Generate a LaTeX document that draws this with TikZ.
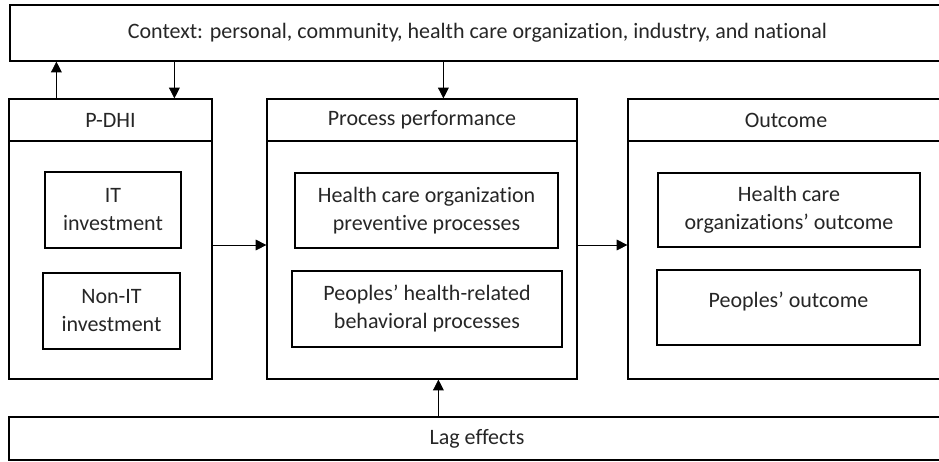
\documentclass[tikz,border=0pt]{standalone}
\usepackage{fontspec}
\setmainfont{Carlito}[Ligatures={NoCommon}]
\usetikzlibrary{arrows.meta,calc}

\tikzset{
  frame/.style={draw, line width=0.9pt, inner sep=0pt, align=center,
    text=black!85, font=\fontsize{16.5}{21}\selectfont},
  arr/.style={-{Triangle[width=8pt,length=8pt]}, line width=0.6pt}
}

\begin{document}
\begin{tikzpicture}[x=0.75pt,y=-0.75pt]
  \useasboundingbox (0,0) rectangle (939,461);

  % top and bottom bands
  \node[frame, minimum width=701.25pt, minimum height=42pt] (ctx) at (477.5,33)
    {Context: personal, community, health care organization, industry, and national};
  \node[frame, minimum width=702pt, minimum height=32.25pt] (lag) at (477,438.5) {Lag effects};

  % P-DHI column
  \node[frame, minimum width=152.25pt, minimum height=31.5pt] (phead) at (110.5,120) {P-DHI};
  \node[frame, minimum width=152.25pt, minimum height=178.5pt] (pbody) at (110.5,260) {};
  \node[frame, minimum width=102pt, minimum height=57pt] (it) at (113,210) {IT\\investment};
  \node[frame, minimum width=102.75pt, minimum height=57pt] (nonit) at (111.5,311) {Non-IT\\investment};

  % process column
  \node[frame, minimum width=232.5pt, minimum height=31.5pt] (qhead) at (422,120) {Process performance};
  \node[frame, minimum width=232.5pt, minimum height=178.5pt] (qbody) at (422,260) {};
  \node[frame, minimum width=197.25pt, minimum height=56.25pt] (hcproc) at (426.5,210.5)
    {Health care organization\\preventive processes};
  \node[frame, minimum width=202.5pt, minimum height=57pt] (pproc) at (427,309)
    {Peoples’ health-related\\behavioral processes};

  % outcome column
  \node[frame, minimum width=237pt, minimum height=31.5pt] (ohead) at (786,120) {Outcome};
  \node[frame, minimum width=237pt, minimum height=178.5pt] (obody) at (786,260) {};
  \node[frame, minimum width=196.5pt, minimum height=55.5pt] (hcout) at (789,210)
    {Health care\\organizations’ outcome};
  \node[frame, minimum width=197.25pt, minimum height=56.25pt, text height=12pt, text depth=12pt]
    (pout) at (788.5,307.5) {Peoples’ outcome};

  % connectors
  \coordinate (up) at ($(phead.north west)+(48,0)$);
  \coordinate (dn) at ($(phead.north west)+(166,0)$);
  \coordinate (mid) at ($(qhead.north west)+(177,0)$);
  \coordinate (lagx) at ($(qbody.south west)+(172,0)$);
  \draw[arr] (up) -- (up |- ctx.south);
  \draw[arr] (ctx.south -| dn) -- (dn);
  \draw[arr] (ctx.south -| mid) -- (mid);
  \draw[arr] ([yshift=11.25pt]pbody.east) -- ([yshift=11.25pt]qbody.west);
  \draw[arr] ([yshift=11.25pt]qbody.east) -- ([yshift=11.25pt]obody.west);
  \draw[arr] (lag.north -| lagx) -- (lagx);
\end{tikzpicture}
\end{document}
